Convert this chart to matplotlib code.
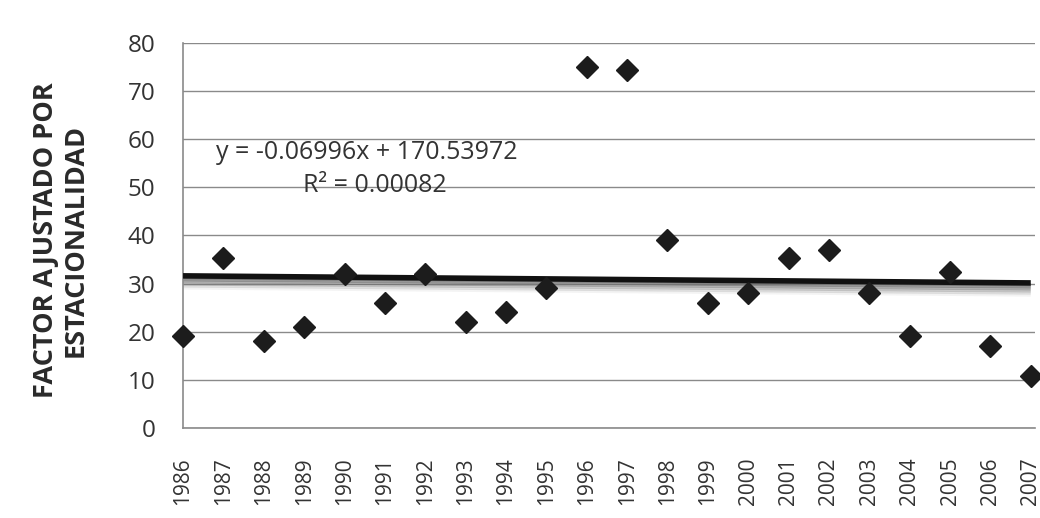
import numpy as np
import matplotlib.pyplot as plt
from matplotlib import transforms

years = list(range(1986, 2008))
factor = [19, 35.3, 18, 21, 32, 26, 32, 22, 24, 29, 75, 74.4,
          39, 26, 28, 35.3, 37, 28, 19, 32.4, 17, 10.8]
slope = -0.06996
intercept = 170.53972
r2 = 0.00082

plt.rcParams['font.family'] = ['Open Sans', 'DejaVu Sans']

fig = plt.figure(figsize=(10.4, 5.18), dpi=100)
ax = fig.add_axes([0.176, 0.174, 0.819, 0.743])

x = np.array(years)
trend = slope * x + intercept

# grey shadow under the trend line
for dy, a in [(-2, 0.7), (-4, 0.6), (-6, 0.45), (-8, 0.3), (-10, 0.18), (-12, 0.08)]:
    tr = transforms.offset_copy(ax.transData, fig=fig, x=0, y=dy, units='dots')
    ax.plot(x, trend, color='#707070', lw=2.5, alpha=a, transform=tr, zorder=2,
            solid_capstyle='butt')
ax.plot(x, trend, color='#111111', lw=4, zorder=3, solid_capstyle='butt')

ax.plot(x, factor, linestyle='none', marker='D', ms=11, color='#1c1c1c', zorder=4,
        clip_on=False)

ax.set_xlim(1986, 2007.1)
ax.set_ylim(0, 80)
ax.set_yticks(range(0, 81, 10))
ax.set_xticks(years)
ax.set_xticklabels([str(y) for y in years], rotation=90, fontsize=15, color='#333333')
ax.tick_params(axis='y', labelsize=17.5, length=0, pad=20, labelcolor='#333333')
ax.tick_params(axis='x', length=0, pad=21)

ax.grid(axis='y', color='#8a8a8a', lw=1)
ax.set_axisbelow(True)
for s in ['top', 'right']:
    ax.spines[s].set_visible(False)
for s in ['left', 'bottom']:
    ax.spines[s].set_color('#8a8a8a')
    ax.spines[s].set_linewidth(1.2)

ax.set_ylabel('FACTOR AJUSTADO POR\nESTACIONALIDAD', fontsize=19.5, fontweight='bold',
              color='#2a2a2a', linespacing=1.15)
ax.yaxis.set_label_coords(-0.111, 0.488)

ax.text(1990.55, 57.2, f'y = {slope}x + {intercept}', fontsize=18, ha='center',
        va='center', color='#333333')
ax.text(1990.75, 50.3, f'R² = {r2:.5f}', fontsize=18, ha='center', va='center',
        color='#333333')

fig.savefig('out.png', dpi=100)
